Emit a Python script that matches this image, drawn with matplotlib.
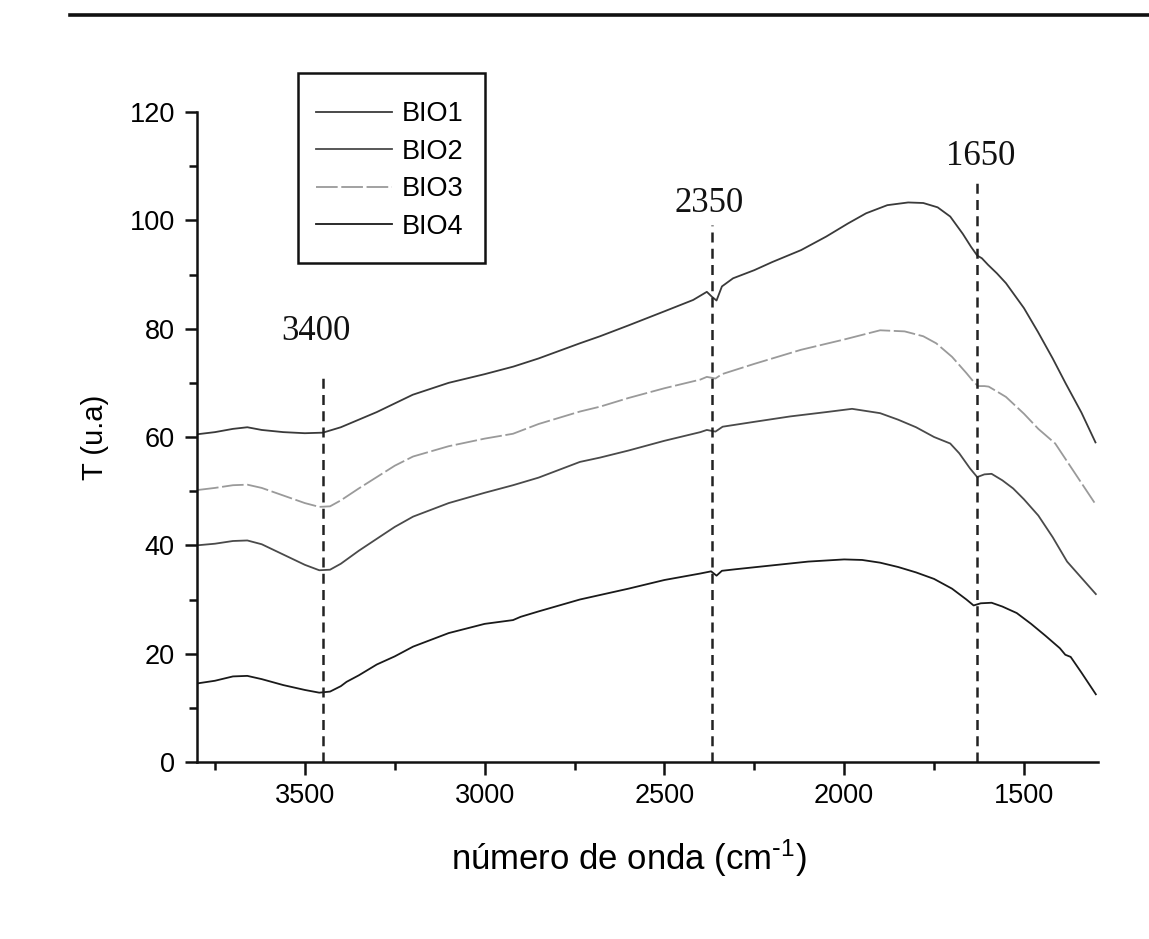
import matplotlib
matplotlib.use("Agg")
import matplotlib.pyplot as plt
from matplotlib.lines import Line2D
from matplotlib.patches import Rectangle

plt.rcParams['font.family'] = ['Liberation Sans', 'DejaVu Sans']
plt.rcParams['mathtext.default'] = 'regular'

# ---- data (wavenumber cm-1, transmittance u.a.) ----
bio1_x = [3800, 3750, 3700, 3660, 3620, 3560, 3500, 3450, 3400, 3350, 3300, 3200, 3100, 3000,
          2920, 2850, 2735, 2679, 2600, 2500, 2420, 2382, 2368, 2355, 2340, 2309, 2250, 2200,
          2120, 2050, 1990, 1939, 1880, 1822, 1780, 1740, 1705, 1670, 1647, 1630, 1617, 1600,
          1575, 1550, 1500, 1461, 1420, 1384, 1340, 1301]
bio1_y = [60.5, 60.9, 61.5, 61.8, 61.3, 60.9, 60.7, 60.8, 61.8, 63.2, 64.6, 67.8, 70.0, 71.6,
          73.0, 74.5, 77.3, 78.6, 80.6, 83.2, 85.3, 86.8, 85.9, 85.2, 87.8, 89.3, 90.8, 92.3,
          94.5, 97.0, 99.4, 101.3, 102.8, 103.3, 103.2, 102.4, 100.7, 97.5, 95.1, 93.5, 93.0, 91.8,
          90.2, 88.4, 83.8, 79.4, 74.5, 69.9, 64.5, 59.0]

bio2_x = [3800, 3750, 3700, 3660, 3620, 3560, 3500, 3460, 3430, 3400, 3350, 3291, 3250, 3199,
          3100, 3000, 2921, 2850, 2735, 2679, 2600, 2500, 2400, 2382, 2358, 2338, 2250, 2150,
          2050, 1978, 1900, 1850, 1800, 1750, 1705, 1680, 1650, 1630, 1610, 1590, 1560, 1530,
          1500, 1460, 1420, 1380, 1340, 1300]
bio2_y = [40.0, 40.3, 40.8, 40.9, 40.2, 38.3, 36.4, 35.4, 35.5, 36.6, 39.0, 41.6, 43.4, 45.3,
          47.8, 49.7, 51.1, 52.5, 55.4, 56.2, 57.5, 59.3, 60.9, 61.3, 61.0, 61.9, 62.8, 63.8,
          64.6, 65.2, 64.4, 63.2, 61.8, 60.0, 58.8, 57.0, 54.2, 52.6, 53.1, 53.2, 52.0, 50.5,
          48.5, 45.5, 41.5, 37.0, 34.0, 31.0]

bio3_x = [3800, 3750, 3700, 3660, 3620, 3560, 3500, 3460, 3430, 3400, 3350, 3300, 3250, 3199,
          3100, 3000, 2921, 2850, 2735, 2679, 2600, 2500, 2400, 2382, 2358, 2340, 2250, 2120,
          2000, 1900, 1832, 1780, 1744, 1700, 1660, 1640, 1628, 1610, 1598, 1575, 1550, 1500,
          1460, 1413, 1360, 1300]
bio3_y = [50.2, 50.6, 51.1, 51.2, 50.6, 49.2, 47.8, 47.1, 47.2, 48.3, 50.5, 52.6, 54.7, 56.4,
          58.3, 59.7, 60.6, 62.4, 64.7, 65.6, 67.2, 69.0, 70.6, 71.1, 70.8, 71.6, 73.5, 76.1,
          78.0, 79.7, 79.5, 78.6, 77.3, 74.8, 71.8, 70.2, 69.4, 69.4, 69.3, 68.4, 67.4, 64.3,
          61.5, 58.8, 53.5, 47.5]

bio4_x = [3800, 3750, 3700, 3660, 3620, 3560, 3500, 3460, 3430, 3400, 3384, 3350, 3300, 3250,
          3199, 3100, 3000, 2921, 2900, 2850, 2735, 2600, 2500, 2400, 2370, 2355, 2340, 2300,
          2200, 2100, 2000, 1950, 1900, 1850, 1800, 1750, 1700, 1660, 1640, 1620, 1590, 1560,
          1520, 1480, 1440, 1400, 1385, 1370, 1340, 1300]
bio4_y = [14.5, 15.0, 15.8, 15.9, 15.3, 14.2, 13.3, 12.8, 13.0, 14.0, 14.8, 16.0, 18.0, 19.5,
          21.3, 23.8, 25.5, 26.2, 26.8, 27.8, 30.0, 32.0, 33.6, 34.8, 35.2, 34.4, 35.3, 35.6,
          36.3, 37.0, 37.4, 37.3, 36.8, 36.0, 35.0, 33.8, 32.0, 30.0, 28.9, 29.3, 29.4, 28.7,
          27.5, 25.5, 23.3, 21.0, 19.8, 19.4, 16.5, 12.5]

series_labels = ['BIO1', 'BIO2', 'BIO3', 'BIO4']

# marked bands: label, line position, line top, label position
band_labels = ['3400', '2350', '1650']
band_pos = [3450, 2368, 1630]
band_top = [70.9, 99.1, 107.8]
band_label_x = [3469, 2376, 1619]
band_label_y = [79.4, 103.2, 111.7]

x_major = [3500, 3000, 2500, 2000, 1500]
x_minor = [3750, 3250, 2750, 2250, 1750]
y_major = [0, 20, 40, 60, 80, 100, 120]
y_minor = [10, 30, 50, 70, 90, 110]

# ---- figure ----
W, H = 1149, 939
fig = plt.figure(figsize=(W/100, H/100), dpi=100)
ax = fig.add_axes([197/W, 1-762/H, (1098-197)/W, (762-112)/H])

ax.plot(bio1_x, bio1_y, color='#3a3a3a', lw=1.3, label=series_labels[0])
ax.plot(bio2_x, bio2_y, color='#4a4a4a', lw=1.3, label=series_labels[1])
ax.plot(bio3_x, bio3_y, color='#9a9a9a', lw=1.3, linestyle=(0, (12, 2)), label=series_labels[2])
ax.plot(bio4_x, bio4_y, color='#1a1a1a', lw=1.3, label=series_labels[3])

for lab, xp, top, lx, ly in zip(band_labels, band_pos, band_top, band_label_x, band_label_y):
    ax.plot([xp, xp], [0, top], color='#222222', lw=1.8, linestyle=(0, (4, 2.5)))
    ax.text(lx, ly, lab, ha='center', va='center', fontsize=25,
            family=['Liberation Serif', 'DejaVu Serif'], color='#111111')

ax.set_xlim(3800, 1294)
ax.set_ylim(0, 120)
ax.set_xticks(x_major)
ax.set_xticks(x_minor, minor=True)
ax.set_yticks(y_major)
ax.set_yticks(y_minor, minor=True)

for s in ['top', 'right']:
    ax.spines[s].set_visible(False)
for s in ['left', 'bottom']:
    ax.spines[s].set_linewidth(1.8)
    ax.spines[s].set_color('#111111')

ax.tick_params(axis='both', which='major', direction='out', length=9, width=1.8,
               labelsize=19.5, color='#111111')
ax.tick_params(axis='both', which='minor', direction='out', length=5.5, width=1.8, color='#111111')
ax.tick_params(axis='x', which='major', pad=6)
ax.tick_params(axis='y', which='major', pad=7)

ax.set_xlabel(r'número de onda (cm$^{\text{-}1}$)', fontsize=25)
ax.xaxis.set_label_coords((629-197)/901, (762-858)/650)
ax.xaxis.label.set_verticalalignment('center')
ax.set_ylabel('T (u.a)', fontsize=21)
ax.yaxis.set_label_coords((95-197)/901, 0.5)
ax.yaxis.label.set_verticalalignment('center')

leg = ax.legend(loc='upper left', bbox_to_anchor=(288/W, 1-73/H),
                bbox_transform=fig.transFigure, fontsize=19.5, frameon=False,
                borderpad=1.05, labelspacing=0.42, handlelength=2.8,
                handletextpad=0.35, borderaxespad=0)

# legend box
fig.add_artist(Rectangle((298/W, 1-263/H), (485-298)/W, (263-73)/H,
                         transform=fig.transFigure, fill=False,
                         edgecolor='#111111', lw=1.8))

# horizontal rule at the top of the page
fig.add_artist(Line2D([70/W, 1.0], [1-15/H, 1-15/H], transform=fig.transFigure,
                      color='#111111', lw=2.6))

fig.savefig('out.png', dpi=100)
